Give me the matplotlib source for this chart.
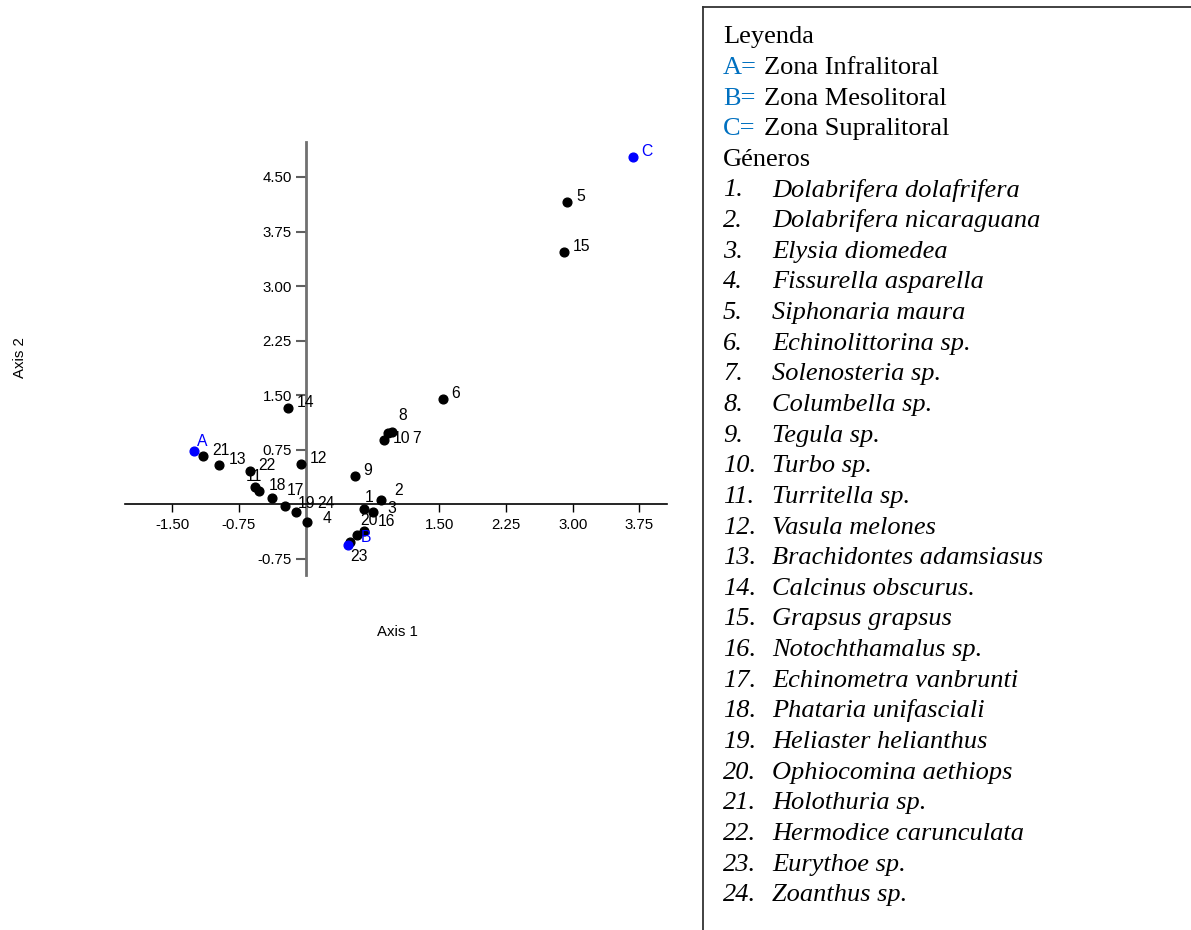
import matplotlib.pyplot as plt
from matplotlib.lines import Line2D

# scores of the 24 genera on the first two axes
species_ids = ['1', '2', '3', '4', '5', '6', '7', '8', '9', '10', '11', '12',
               '13', '14', '15', '16', '17', '18', '19', '20', '21', '22', '23', '24']
axis1_scores = [0.65, 0.85, 0.76, 0.02, 2.94, 1.54, 0.97, 0.93, 0.55, 0.88, -0.57, -0.05,
                -0.97, -0.20, 2.90, 0.66, -0.38, -0.52, -0.23, 0.58, -1.15, -0.63, 0.50, -0.11]
axis2_scores = [-0.06, 0.06, -0.10, -0.24, 4.16, 1.45, 1.00, 0.98, 0.39, 0.88, 0.24, 0.56,
                0.54, 1.32, 3.47, -0.36, 0.09, 0.18, -0.02, -0.42, 0.66, 0.46, -0.51, -0.10]

# zones
zone_ids = ['A', 'B', 'C']
zone_axis1 = [-1.26, 0.48, 3.68]
zone_axis2 = [0.73, -0.56, 4.78]
zone_names = ['Zona Infralitoral', 'Zona Mesolitoral', 'Zona Supralitoral']

species_names = ['Dolabrifera dolafrifera', 'Dolabrifera nicaraguana', 'Elysia diomedea',
                 'Fissurella asparella', 'Siphonaria maura', 'Echinolittorina sp.',
                 'Solenosteria sp.', 'Columbella sp.', 'Tegula sp.', 'Turbo sp.',
                 'Turritella sp.', 'Vasula melones', 'Brachidontes adamsiasus',
                 'Calcinus obscurus.', 'Grapsus grapsus', 'Notochthamalus sp.',
                 'Echinometra vanbrunti', 'Phataria unifasciali', 'Heliaster helianthus',
                 'Ophiocomina aethiops', 'Holothuria sp.', 'Hermodice carunculata',
                 'Eurythoe sp.', 'Zoanthus sp.']

xticks = [-1.5, -0.75, 1.5, 2.25, 3.0, 3.75]
yticks = [-0.75, 0.75, 1.5, 2.25, 3.0, 3.75, 4.5]

# label placement (pixels from the point), default is to the upper right
label_offsets = {'1': (1, 7), '2': (13, 5), '3': (14, -1), '4': (15, -1),
                 '7': (20, -11), '8': (10, 13), '10': (9, -3), '11': (-9, 6),
                 '16': (13, 5), '17': (15, 3), '19': (13, -2), '20': (3, 10),
                 '23': (0, -19), '24': (21, 4)}
zone_offsets = {'A': (3, 5), 'B': (12, 3), 'C': (8, 1)}

plt.rcParams['font.family'] = ['Liberation Sans', 'DejaVu Sans']

W, H = 1191, 930
fig = plt.figure(figsize=(W / 100, H / 100), dpi=100)
ax = fig.add_axes([125 / W, 1 - 575 / H, 542 / W, 433 / H])
ax.set_xlim(-2.03, 4.06)
ax.set_ylim(-0.97, 4.98)

# axes crossing at the origin
ax.spines['top'].set_visible(False)
ax.spines['right'].set_visible(False)
ax.spines['left'].set_position('zero')
ax.spines['bottom'].set_position('zero')
ax.spines['left'].set_color('#707070')
ax.spines['left'].set_linewidth(2)
ax.spines['bottom'].set_color('black')
ax.spines['bottom'].set_linewidth(1.2)

ax.set_xticks(xticks)
ax.set_xticklabels(['%.2f' % v for v in xticks])
ax.set_yticks(yticks)
ax.set_yticklabels(['%.2f' % v for v in yticks])
ax.tick_params(axis='y', direction='out', length=7, width=1.5, color='#606060',
               labelsize=10.8, pad=3)
ax.tick_params(axis='x', direction='out', length=6, width=1, color='black',
               labelsize=10.8, pad=4)

# points
ax.plot(axis1_scores, axis2_scores, 'o', color='black', ms=6.3, zorder=3, clip_on=False)
ax.plot(zone_axis1, zone_axis2, 'o', color='blue', ms=6.3, zorder=4, clip_on=False)

for lab, x, y in zip(species_ids, axis1_scores, axis2_scores):
    ax.annotate(lab, (x, y), xytext=label_offsets.get(lab, (9, 1)),
                textcoords='offset pixels', fontsize=11.3, va='baseline', ha='left',
                zorder=5)
for lab, x, y in zip(zone_ids, zone_axis1, zone_axis2):
    ax.annotate(lab, (x, y), xytext=zone_offsets[lab], textcoords='offset pixels',
                fontsize=11.3, va='baseline', ha='left', color='blue', zorder=5)

fig.text(397 / W, 1 - 632 / H, 'Axis 1', ha='center', va='center', fontsize=10.8)
fig.text(20 / W, 1 - 358 / H, 'Axis 2', ha='center', va='center', fontsize=10.8,
         rotation=90)

# legend box (only the top and left edges fall inside the image)
box_color = '#333333'
fig.add_artist(Line2D([703 / W, 703 / W], [0, 1 - 7.5 / H], transform=fig.transFigure,
                      color=box_color, lw=1.3))
fig.add_artist(Line2D([703 / W, 1], [1 - 7.5 / H, 1 - 7.5 / H], transform=fig.transFigure,
                      color=box_color, lw=1.3))

serif = ['Liberation Serif', 'DejaVu Serif']
fs = 19
x0 = 723 / W
step = 30.64
base = 43.3


def ypos(i):
    return 1 - (base + i * step) / H


fig.text(x0, ypos(0), 'Leyenda', family=serif, fontsize=fs, va='baseline')
for i, (zid, zname) in enumerate(zip(zone_ids, zone_names)):
    fig.text(x0, ypos(i + 1), zid + '=', family=serif, fontsize=fs, va='baseline',
             color='#0070C0')
    fig.text((763.5 if zid != 'A' else 764.5) / W, ypos(i + 1), zname, family=serif,
             fontsize=fs, va='baseline')
fig.text(x0, ypos(4), 'Géneros', family=serif, fontsize=fs, va='baseline')
for i, (sid, sname) in enumerate(zip(species_ids, species_names)):
    fig.text(x0, ypos(i + 5), sid + '.', family=serif, fontsize=fs, va='baseline',
             style='italic')
    fig.text(772 / W, ypos(i + 5), sname, family=serif, fontsize=fs, va='baseline',
             style='italic')

fig.savefig('out.png', dpi=100)
